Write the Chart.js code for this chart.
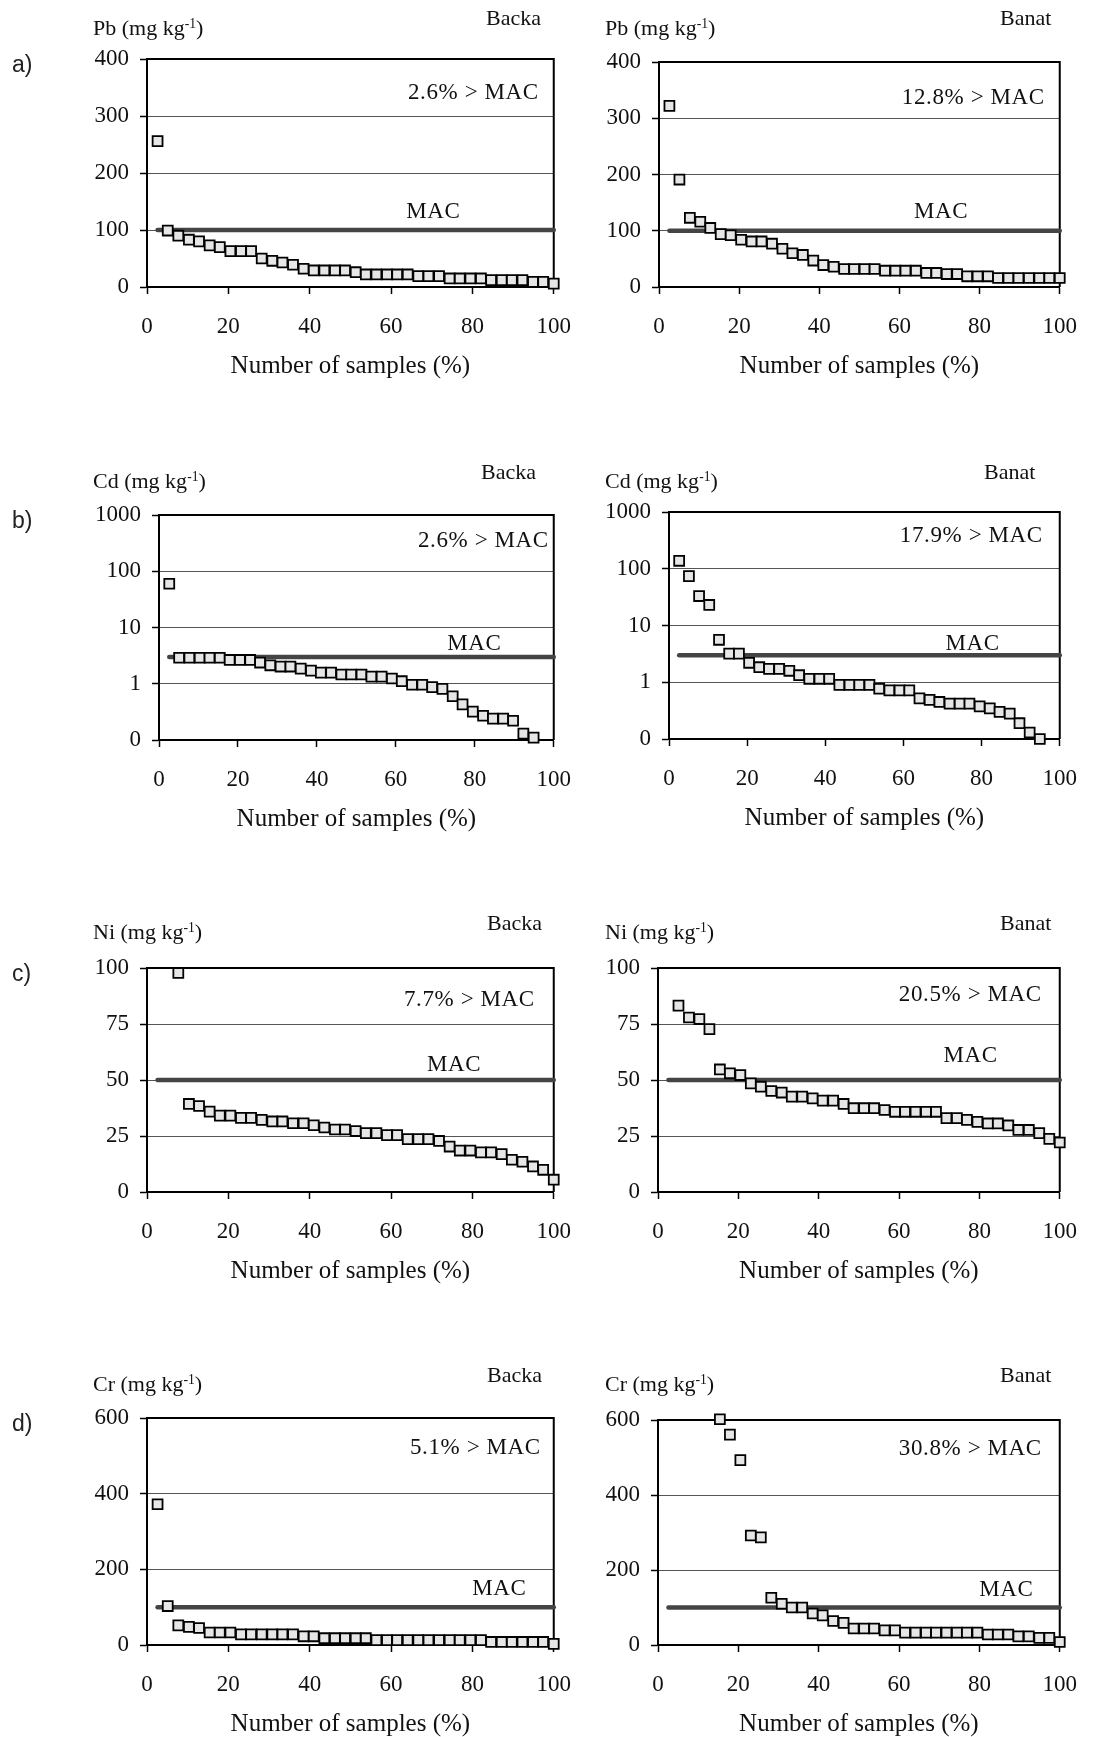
<!DOCTYPE html>
<html>
<head>
<meta charset="utf-8">
<script src="https://cdn.jsdelivr.net/npm/chart.js@4/dist/chart.umd.min.js"></script>
<style>
    body { margin: 0; background: #fff; width: 1096px; height: 1737px; position: relative; overflow: hidden; }
    canvas { position: absolute; }
    .lbl { position: absolute; white-space: nowrap; line-height: 1; color: #111; font-family: 'Liberation Serif', 'Times New Roman', serif; }
    .lbl sup { font-size: 0.62em; vertical-align: 0.55em; line-height: 0; }
    .letter { font-family: 'Liberation Sans', Arial, sans-serif; color: #222; }
</style>
</head>
<body>
<script>
// sample position along the ranked list (% of 39 samples)
const samplePct = [2.6, 5.1, 7.7, 10.3, 12.8, 15.4, 17.9, 20.5, 23.1, 25.6, 28.2, 30.8, 33.3, 35.9, 38.5, 41.0, 43.6, 46.2, 48.7, 51.3,
    53.8, 56.4, 59.0, 61.5, 64.1, 66.7, 69.2, 71.8, 74.4, 76.9, 79.5, 82.1, 84.6, 87.2, 89.7, 92.3, 94.9, 97.4, 100]

// concentrations, mg/kg (null = off scale / not shown)
const pbBacka = [256, 99, 90, 83, 80, 73, 70, 63, 63, 63, 50, 46, 43, 39, 32, 29, 29, 29, 29, 26,
    22, 22, 22, 22, 22, 19, 19, 19, 15, 15, 15, 15, 12, 12, 12, 12, 9, 9, 6]
const pbBanat = [322, 191, 123, 116, 105, 94, 92, 84, 81, 81, 77, 68, 60, 57, 47, 39, 36, 32, 32, 32,
    32, 29, 29, 29, 29, 25, 25, 23, 23, 19, 19, 19, 16, 16, 16, 16, 16, 16, 16]
const cdBacka = [60, 2.9, 2.9, 2.9, 2.9, 2.9, 2.65, 2.65, 2.65, 2.38, 2.13, 2.02, 2.02, 1.86, 1.71, 1.58, 1.58, 1.46, 1.46, 1.46,
    1.34, 1.34, 1.24, 1.11, 0.96, 0.96, 0.87, 0.81, 0.6, 0.43, 0.32, 0.27, 0.24, 0.24, 0.22, 0.13, 0.11, null, null]
const cdBanat = [138, 74, 33, 23, 5.6, 3.2, 3.2, 2.2, 1.84, 1.72, 1.72, 1.59, 1.33, 1.15, 1.15, 1.15, 0.9, 0.9, 0.9, 0.9,
    0.77, 0.72, 0.72, 0.72, 0.52, 0.49, 0.45, 0.42, 0.42, 0.42, 0.375, 0.346, 0.3, 0.28, 0.19, 0.13, 0.1, null, null]
const niBacka = [null, null, 97.8, 39.3, 38.4, 35.9, 34.1, 34.1, 33.1, 33.1, 32.2, 31.5, 31.5, 30.7, 30.7, 29.8, 28.8, 27.9, 27.9, 27.2,
    26.3, 26.3, 25.4, 25.4, 23.6, 23.6, 23.6, 22.8, 20.3, 18.5, 18.5, 17.7, 17.7, 16.9, 14.4, 13.5, 11.4, 9.9, 5.5]
const niBanat = [null, 83.2, 77.9, 77.2, 72.7, 54.7, 53.0, 52.2, 48.5, 47.0, 45.1, 44.4, 42.6, 42.6, 41.8, 40.8, 40.8, 39.3, 37.4, 37.4,
    37.4, 36.6, 35.8, 35.8, 35.8, 35.8, 35.8, 33.0, 33.0, 32.2, 31.3, 30.6, 30.6, 29.7, 27.7, 27.7, 26.3, 23.7, 22.1]
const crBacka = [372, 103, 52, 48, 45, 33, 33, 33, 28, 28, 28, 28, 28, 28, 23, 23, 18, 18, 18, 18,
    18, 13, 13, 13, 13, 13, 13, 13, 13, 13, 13, 13, 8, 8, 8, 8, 8, 8, 3]
const crBanat = [null, null, null, null, null, 602, 561, 493, 292, 287, 126, 110, 100, 100, 84, 79, 64, 59, 44, 44,
    44, 39, 39, 33, 33, 33, 33, 33, 33, 33, 33, 28, 28, 28, 23, 23, 19, 19, 8]

const metals = ['Pb', 'Cd', 'Ni', 'Cr']
const macLevels = [100, 3, 50, 100]
const regions = ['Backa', 'Banat']
const panelLetters = ['a)', 'b)', 'c)', 'd)']
const exceedNotes = ['2.6% > MAC', '12.8% > MAC', '2.6% > MAC', '17.9% > MAC', '7.7% > MAC', '20.5% > MAC', '5.1% > MAC', '30.8% > MAC']
const yMaxes = [400, 1000, 100, 600]
const yStepSizes = [100, null, 25, 200]
const logTicks = [0.1, 1, 10, 100, 1000]
const seriesValues = [pbBacka, pbBanat, cdBacka, cdBanat, niBacka, niBanat, crBacka, crBanat]

// layout: plot boxes [left, top, right, bottom] in page pixels
const plotBoxes = [
    [147, 59, 561, 287], [659, 62, 1073, 287],
    [159, 515, 563, 740], [669, 512, 1073, 739],
    [147, 968, 563, 1192], [658, 968, 1073, 1192],
    [147, 1418, 563, 1645], [658, 1420, 1073, 1645],
]
const notePos = [[15, 34], [15, 36], [5, 26], [17, 24], [19, 32], [18, 27], [13, 30], [18, 29]]
const macLabelPos = [[70.4, 18], [70.4, 19], [79.9, 13], [77.7, 11], [75.5, 15.5], [77.8, 24], [86.6, 18], [86.7, 18]]
const headerY = [[28, 18], [481, 472], [932, 923], [1384, 1375]]
const regionX = [[486, 1000], [481, 984], [487, 1000], [487, 1000]]

const serif = "'Liberation Serif', 'Times New Roman', serif"
const ink = '#111'

function addLabel(html, x, y, size, cls) {
    const el = document.createElement('div')
    el.className = 'lbl' + (cls ? ' ' + cls : '')
    el.innerHTML = html
    el.style.left = x + 'px'
    el.style.top = (y - size / 2) + 'px'
    el.style.fontSize = size + 'px'
    document.body.appendChild(el)
}

const panelDecor = {
    id: 'panelDecor',
    beforeDatasetsDraw(chart) {
        const { ctx, chartArea: a } = chart
        ctx.save()
        ctx.strokeStyle = '#000'
        ctx.lineWidth = 2
        ctx.beginPath()
        ctx.moveTo(a.left, a.top)
        ctx.lineTo(a.right, a.top)
        ctx.lineTo(a.right, a.bottom)
        ctx.stroke()
        ctx.restore()
    },
    afterDatasetsDraw(chart, args, opts) {
        const { ctx, chartArea: a, scales } = chart
        ctx.save()
        ctx.font = `23px ${serif}`
        ctx.letterSpacing = '0.6px'
        ctx.fillStyle = ink
        ctx.textBaseline = 'middle'
        ctx.textAlign = 'right'
        ctx.fillText(opts.note, a.right - opts.noteRight, a.top + opts.noteTop)
        ctx.textAlign = 'center'
        ctx.fillText('MAC', scales.x.getPixelForValue(opts.macX), scales.y.getPixelForValue(opts.mac) - opts.macAbove)
        ctx.restore()
    },
}

function yScale(row) {
    const common = {
        border: { color: '#000', width: 2 },
        grid: { color: '#555', lineWidth: 1, tickLength: 7, tickColor: '#000', tickWidth: 1.5 },
    }
    const tickFont = { family: serif, size: 23 }
    if (row === 1) {
        return {
            ...common,
            type: 'logarithmic',
            min: logTicks[0],
            max: logTicks[logTicks.length - 1],
            afterBuildTicks: scale => { scale.ticks = logTicks.map(value => ({ value })) },
            ticks: { font: tickFont, color: ink, padding: 11, callback: value => (value < 1 ? '0' : String(value)) },
        }
    }
    return {
        ...common,
        type: 'linear',
        min: 0,
        max: yMaxes[row],
        ticks: { font: tickFont, color: ink, padding: 11, stepSize: yStepSizes[row] },
    }
}

function drawPanel(index) {
    const row = Math.floor(index / 2)
    const col = index % 2
    const [L, T, R, B] = plotBoxes[index]
    const canvasLeft = col === 0 ? 60 : 590
    const canvasRight = col === 0 ? 590 : 1096
    const canvasTop = T - 50
    const canvas = document.createElement('canvas')
    canvas.width = canvasRight - canvasLeft
    canvas.height = B + 100 - canvasTop
    canvas.style.left = canvasLeft + 'px'
    canvas.style.top = canvasTop + 'px'
    canvas.style.width = canvas.width + 'px'
    canvas.style.height = canvas.height + 'px'
    document.body.appendChild(canvas)

    const values = seriesValues[index]
    const mac = macLevels[row]
    const points = samplePct
        .map((x, i) => ({ x, y: values[i] }))
        .filter(point => point.y !== null)

    const y = yScale(row)
    y.afterFit = scale => { scale.width = L - canvasLeft }

    new Chart(canvas.getContext('2d'), {
        type: 'scatter',
        data: {
            datasets: [
                {
                    label: metals[row] + ' ' + regions[col],
                    data: points,
                    pointStyle: 'rect',
                    pointRadius: 7,
                    backgroundColor: '#e6e6e6',
                    borderColor: '#000',
                    borderWidth: 1.8,
                    clip: false,
                },
                {
                    label: 'MAC',
                    data: [{ x: samplePct[0], y: mac }, { x: samplePct[samplePct.length - 1], y: mac }],
                    showLine: true,
                    pointRadius: 0,
                    borderColor: '#444',
                    borderWidth: 4.5,
                    borderCapStyle: 'round',
                    clip: false,
                },
            ],
        },
        options: {
            responsive: false,
            animation: false,
            layout: { padding: { top: T - canvasTop, right: canvasRight - R, left: 0, bottom: 0 } },
            plugins: {
                legend: { display: false },
                tooltip: { enabled: false },
                panelDecor: {
                    note: exceedNotes[index],
                    noteRight: notePos[index][0],
                    noteTop: notePos[index][1],
                    mac,
                    macX: macLabelPos[index][0],
                    macAbove: macLabelPos[index][1],
                },
            },
            scales: {
                x: {
                    type: 'linear',
                    min: 0,
                    max: 100,
                    afterFit: scale => { scale.height = 100 },
                    border: { color: '#000', width: 2 },
                    grid: { drawOnChartArea: false, tickLength: 7, tickColor: '#000', tickWidth: 1.5 },
                    ticks: { stepSize: 20, font: { family: serif, size: 23 }, color: ink, padding: 19 },
                    title: {
                        display: true,
                        text: 'Number of samples (%)',
                        font: { family: serif, size: 25 },
                        color: ink,
                        padding: { top: 0, bottom: 6 },
                    },
                },
                y,
            },
        },
        plugins: [panelDecor],
    })

    // headers above each plot
    const [unitY, regionY] = headerY[row]
    addLabel(`${metals[row]} (mg kg<sup>-1</sup>)`, col === 0 ? 93 : 605, unitY, 22)
    addLabel(regions[col], regionX[row][col], regionY, 22)
    if (col === 0) addLabel(panelLetters[row], 12, T + 5, 23, 'letter')
}

seriesValues.forEach((_, index) => drawPanel(index))
</script>
</body>
</html>
